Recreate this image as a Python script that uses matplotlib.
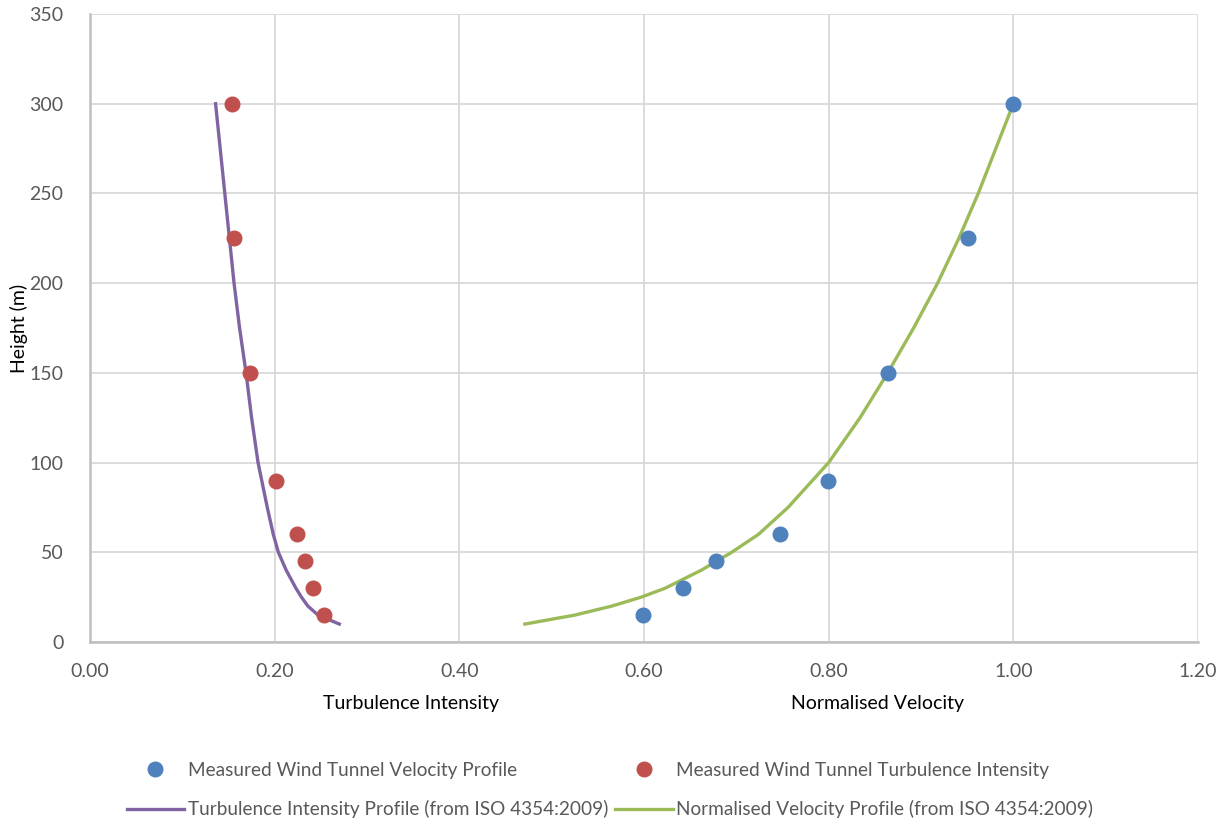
import matplotlib
matplotlib.use("Agg")
import matplotlib.pyplot as plt

plt.rcParams['font.family'] = ['Lato', 'DejaVu Sans']

# measured wind tunnel data
meas_heights = [15, 30, 45, 60, 90, 150, 225, 300]
meas_velocity = [0.599, 0.642, 0.678, 0.747, 0.799, 0.864, 0.951, 1.00]
meas_turbulence = [0.253, 0.241, 0.233, 0.224, 0.201, 0.173, 0.156, 0.154]

# ISO 4354:2009 profiles
iso_heights = [10, 15, 20, 25, 30, 40, 50, 60, 75, 100, 125, 150, 175, 200,
               225, 250, 275, 300]
iso_velocity = [0.471, 0.525, 0.565, 0.597, 0.623, 0.662, 0.695, 0.724, 0.756,
                0.800, 0.834, 0.864, 0.892, 0.918, 0.941, 0.962, 0.981, 1.00]
iso_turbulence = [0.270, 0.247, 0.236, 0.229, 0.223, 0.2125, 0.204, 0.1985, 0.192,
                  0.182, 0.175, 0.169, 0.162, 0.156, 0.151, 0.146, 0.141, 0.136]

BLUE = '#4f81bd'
RED = '#c0504d'
PURPLE = '#8064a2'
GREEN = '#9bbb59'
TEXT = '#595959'
FS = 14

fig = plt.figure(figsize=(12.26, 8.25), dpi=100)
ax = fig.add_axes([90 / 1226, 1 - 642 / 825, (1198 - 90) / 1226, (642 - 14) / 825])

h_vel, = ax.plot(meas_velocity, meas_heights, 'o', color=BLUE, markersize=10.5,
                 label='Measured Wind Tunnel Velocity Profile', zorder=4)
h_ti, = ax.plot(meas_turbulence, meas_heights, 'o', color=RED, markersize=10.5,
                label='Measured Wind Tunnel Turbulence Intensity', zorder=4)
h_iso_ti, = ax.plot(iso_turbulence, iso_heights, '-', color=PURPLE, lw=2.4,
                    solid_joinstyle='round',
                    label='Turbulence Intensity Profile (from ISO 4354:2009)', zorder=3)
h_iso_v, = ax.plot(iso_velocity, iso_heights, '-', color=GREEN, lw=2.4,
                   solid_joinstyle='round',
                   label='Normalised Velocity Profile (from ISO 4354:2009)', zorder=3)

ax.set_xlim(0, 1.2)
ax.set_ylim(0, 350)
ax.set_xticks([0, 0.2, 0.4, 0.6, 0.8, 1.0, 1.2])
ax.set_xticklabels(['0.00', '0.20', '0.40', '0.60', '0.80', '1.00', '1.20'])
ax.set_yticks(range(0, 351, 50))
ax.grid(True, color='#d9d9d9', lw=1.3)
ax.set_axisbelow(True)
ax.tick_params(length=0, labelsize=FS, colors=TEXT)
ax.tick_params(axis='x', pad=15)
ax.tick_params(axis='y', pad=19)
for side in ['top', 'right']:
    ax.spines[side].set_visible(False)
for side in ['left', 'bottom']:
    ax.spines[side].set_color('#bfbfbf')
    ax.spines[side].set_linewidth(1.8)

ax.set_ylabel('Height (m)', fontsize=FS, color='black')
ax.yaxis.set_label_coords(-62 / 1108, 0.5)
ax.text(0.348, -0.098, 'Turbulence Intensity', transform=ax.get_xaxis_transform(),
        ha='center', va='center', fontsize=FS)
ax.text(0.853, -0.098, 'Normalised Velocity', transform=ax.get_xaxis_transform(),
        ha='center', va='center', fontsize=FS)

leg = fig.legend(handles=[h_vel, h_iso_ti, h_ti, h_iso_v], ncol=2,
                 loc='center', bbox_to_anchor=(610 / 1226, 1 - 790 / 825),
                 frameon=False, fontsize=13.7, handlelength=3.0, handletextpad=0.2,
                 columnspacing=0.4, labelspacing=1.15)
for t in leg.get_texts():
    t.set_color(TEXT)

fig.savefig('out.png', dpi=100)
